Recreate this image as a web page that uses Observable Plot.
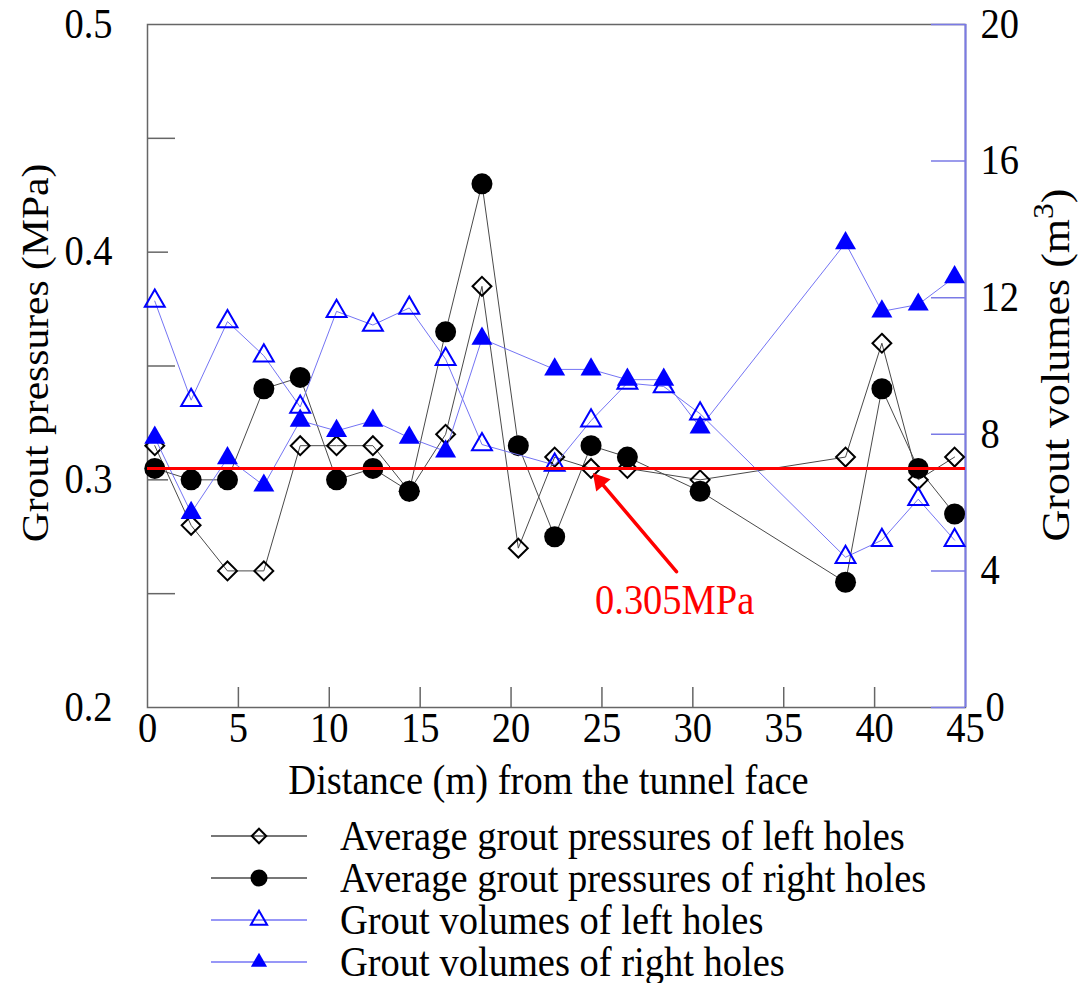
<!DOCTYPE html>
<html>
<head>
<meta charset="utf-8">
<script src="https://cdn.jsdelivr.net/npm/d3@7"></script>
<script src="https://cdn.jsdelivr.net/npm/@observablehq/plot@0.6"></script>
<style>
  body { margin: 0; background: #fff; }
  #chart { width: 1086px; }
  .legend { font-family: "Liberation Serif", "Times New Roman", serif; font-size: 38.5px; color: #000; padding-top: 3px; }
  .legend .row { display: flex; align-items: center; height: 42px; padding-left: 211px; }
  .legend svg { width: 96px; height: 30px; margin-right: 33px; flex: none; }
  .legend span { display: inline-block; transform: scaleY(1.08); transform-origin: left center; white-space: nowrap; }
</style>
</head>
<body>
<div id="chart"></div>
<div class="legend" id="legend"></div>
<script>
// Distances (m) from the tunnel face at which grout pressures were logged
const pressureDist = [0.4, 2.4, 4.4, 6.4, 8.4, 10.4, 12.4, 14.4, 16.4, 18.4, 20.4, 22.4, 24.4, 26.4, 30.4, 38.4, 40.4, 42.4, 44.4];
// Average grout pressures (MPa)
const pressureLeft  = [0.315, 0.28, 0.26, 0.26, 0.315, 0.315, 0.315, 0.295, 0.32, 0.385, 0.27, 0.31, 0.305, 0.305, 0.30, 0.31, 0.36, 0.30, 0.31];
const pressureRight = [0.305, 0.30, 0.30, 0.34, 0.345, 0.30, 0.305, 0.295, 0.365, 0.43, 0.315, 0.275, 0.315, 0.31, 0.295, 0.255, 0.34, 0.305, 0.285];

// Distances (m) at which grout volumes were logged
const volumeDist = [0.4, 2.4, 4.4, 6.4, 8.4, 10.4, 12.4, 14.4, 16.4, 18.4, 22.4, 24.4, 26.4, 28.4, 30.4, 38.4, 40.4, 42.4, 44.4];
// Grout volumes (m3)
const volumeLeft  = [11.9, 9.0, 11.3, 10.3, 8.8, 11.6, 11.2, 11.7, 10.2, 7.7, 7.1, 8.4, 9.5, 9.4, 8.6, 4.4, 4.9, 6.1, 4.9];
const volumeRight = [7.9, 5.7, 7.3, 6.5, 8.4, 8.1, 8.4, 7.9, 7.5, 10.8, 9.9, 9.9, 9.6, 9.6, 8.2, 13.6, 11.6, 11.8, 12.6];

// Axis ticks
const xTicks = [0, 5, 10, 15, 20, 25, 30, 35, 40, 45];
const pressureTicks = [0.2, 0.3, 0.4, 0.5];
const pressureMinorTicks = [0.25, 0.35, 0.45];
const volumeTicks = [0, 4, 8, 12, 16, 20];

// Reference pressure and its callout
const refPressure = 0.305;
const refLabel = "0.305MPa";
const callout = {x1: 29.1, y1: 0.2597, x2: 24.5, y2: 0.303, tx: 29.0, ty: 0.247};

const xTitle = "Distance (m) from the tunnel face";
const yTitle = "Grout pressures (MPa)";
const y2Title = "Grout volumes (m3)";

const seriesNames = [
  "Average grout pressures of left holes",
  "Average grout pressures of right holes",
  "Grout volumes of left holes",
  "Grout volumes of right holes"
];

// Layout
const width = 1086, height = 812;
const marginLeft = 147, marginRight = 121, marginTop = 24, marginBottom = 105;
const frameW = width - marginLeft - marginRight;
const frameH = height - marginTop - marginBottom;
const pDomain = [0.2, 0.5];
const vMax = 20;

// Volumes share the pressure scale through a linear mapping (right axis)
const toP = v => pDomain[0] + v * (pDomain[1] - pDomain[0]) / vMax;
const fromP = p => (p - pDomain[0]) * vMax / (pDomain[1] - pDomain[0]);

const pressureRows = pressureDist.map((x, i) => ({x, left: pressureLeft[i], right: pressureRight[i]}));
const volumeRows = volumeDist.map((x, i) => ({x, left: toP(volumeLeft[i]), right: toP(volumeRight[i])}));

const grey = "#4a4a4a", frameGrey = "#666", blueLine = "#7474f4", blueAxis = "#7a7ae6", blue = "#0000ff", red = "#ff0000";
const font = "'Liberation Serif', 'Times New Roman', serif";
const fs = 38.5;
const stretch = 1.08; // glyphs are drawn slightly taller than wide

// Filled arrow head, oriented along the callout in screen space
const pxX = frameW / 45, pxY = frameH / (pDomain[1] - pDomain[0]);
const ddx = (callout.x2 - callout.x1) * pxX, ddy = -(callout.y2 - callout.y1) * pxY;
const dlen = Math.hypot(ddx, ddy);
const ux = ddx / dlen, uy = ddy / dlen;
const headR = 7;
const headH = Math.sqrt(Math.PI * headR * headR / (Math.sqrt(3) * 3)); // centroid-to-base distance of the triangle
const headAngle = Math.atan2(ux, -uy) * 180 / Math.PI;

const volumeTickFormat = d => String(Math.round(fromP(d)));

const chart = Plot.plot({
  width, height, marginLeft, marginRight, marginTop, marginBottom,
  style: {fontFamily: font, background: "#fff", color: "#000", overflow: "visible"},
  x: {domain: [0, 45]},
  y: {domain: pDomain},
  marks: [
    // frame
    Plot.frame({stroke: frameGrey, strokeWidth: 1.5}),
    Plot.ruleX([45], {stroke: blueAxis, strokeWidth: 2}),
    // inward ticks
    Plot.ruleY(pressureTicks.slice(1, -1), {stroke: frameGrey, strokeWidth: 1.5, insetRight: frameW - 21}),
    Plot.ruleY(pressureMinorTicks, {stroke: frameGrey, strokeWidth: 1.5, insetRight: frameW - 28}),
    Plot.ruleX(xTicks.slice(1, -1), {stroke: frameGrey, strokeWidth: 1.5, insetTop: frameH - 20}),
    Plot.ruleY(volumeTicks.map(toP), {stroke: blueAxis, strokeWidth: 1.5, insetLeft: frameW - 34}),
    // axes
    Plot.axisX({ticks: xTicks, tickSize: 0, tickPadding: 5, fontSize: fs, label: null, tickFormat: d => String(d)}),
    Plot.axisY({anchor: "left", ticks: pressureTicks, tickSize: 0, tickPadding: 35, fontSize: fs, label: null, tickFormat: d3.format(".1f")}),
    Plot.axisY({anchor: "right", ticks: volumeTicks.slice(1).map(toP), tickSize: 0, tickPadding: 15, fontSize: fs, label: null, tickFormat: volumeTickFormat}),
    // the zero label sits a little further out so it clears the "45" below it
    Plot.axisY({anchor: "right", ticks: volumeTicks.slice(0, 1).map(toP), tickSize: 0, tickPadding: 20, fontSize: fs, label: null, tickFormat: volumeTickFormat}),
    // axis titles
    Plot.text([yTitle], {frameAnchor: "left", textAnchor: "middle", rotate: -90, dx: -112, dy: -13, fontSize: fs}),
    Plot.text([y2Title], {frameAnchor: "right", textAnchor: "middle", rotate: -90, dx: 91, dy: -1, fontSize: 40}),
    Plot.text([xTitle], {frameAnchor: "bottom", textAnchor: "middle", dx: -8, dy: 86, fontSize: fs}),
    // pressure series
    Plot.line(pressureRows, {x: "x", y: "left", stroke: grey, strokeWidth: 1}),
    Plot.line(pressureRows, {x: "x", y: "right", stroke: grey, strokeWidth: 1}),
    Plot.dot(pressureRows, {x: "x", y: "left", symbol: "diamond2", r: 8.5, stroke: "#000", strokeWidth: 2, fill: "none"}),
    Plot.dot(pressureRows, {x: "x", y: "right", symbol: "circle", r: 10.5, fill: "#000", stroke: "none"}),
    // volume series
    Plot.line(volumeRows, {x: "x", y: "left", stroke: blueLine, strokeWidth: 1}),
    Plot.line(volumeRows, {x: "x", y: "right", stroke: blueLine, strokeWidth: 1}),
    Plot.dot(volumeRows, {x: "x", y: "left", symbol: "triangle", r: 7.4, stroke: blue, strokeWidth: 2, fill: "none"}),
    Plot.dot(volumeRows, {x: "x", y: "right", symbol: "triangle", r: 7.8, fill: blue, stroke: "none"}),
    // reference line and callout
    Plot.ruleY([refPressure], {stroke: red, strokeWidth: 3}),
    Plot.arrow([callout], {x1: "x1", y1: "y1", x2: "x2", y2: "y2", stroke: red, strokeWidth: 3.5, headLength: 0, insetEnd: 8}),
    Plot.dot([callout], {x: "x2", y: "y2", symbol: "triangle", r: headR, fill: red, rotate: headAngle,
      dx: -ux * 2 * headH, dy: -uy * 2 * headH}),
    Plot.text([callout], {x: "tx", y: "ty", text: () => refLabel, fill: red, fontSize: fs})
  ]
});

// Stretch glyphs vertically (along the reading direction for rotated titles)
d3.select(chart).selectAll("text").each(function () {
  const t = this.getAttribute("transform");
  if (t == null) return;
  const rotated = /rotate\(\s*-?90/.test(t);
  const k = this.textContent === y2Title ? 1.1 : stretch;
  this.setAttribute("transform", t + (rotated ? ` scale(${k},1)` : ` scale(1,${stretch})`));
});

// Superscript the exponent in the volume unit
d3.select(chart).selectAll("text").filter(function () { return this.textContent === y2Title; }).each(function () {
  const sel = d3.select(this);
  const dy = sel.attr("dy");
  sel.text(null);
  const host = sel.append("tspan").attr("dy", dy);
  sel.attr("dy", null);
  host.append("tspan").text("Grout volumes (m");
  host.append("tspan").attr("font-size", "0.72em").attr("baseline-shift", "super").text("3");
  host.append("tspan").text(")");
});

document.getElementById("chart").append(chart);

// Legend below the chart
const swatches = [
  {stroke: grey, symbol: d3.symbolDiamond2, size: Math.PI * 6.5 * 6.5, fill: "none", mstroke: "#000"},
  {stroke: grey, symbol: d3.symbolCircle, size: Math.PI * 8.5 * 8.5, fill: "#000", mstroke: "none"},
  {stroke: blueLine, symbol: d3.symbolTriangle, size: Math.PI * 6 * 6, fill: "none", mstroke: blue},
  {stroke: blueLine, symbol: d3.symbolTriangle, size: Math.PI * 6 * 6, fill: blue, mstroke: "none"}
];
const legend = d3.select("#legend");
seriesNames.forEach((name, i) => {
  const s = swatches[i];
  const row = legend.append("div").attr("class", "row");
  const svg = row.append("svg").attr("viewBox", "0 0 96 30");
  svg.append("line").attr("x1", 0).attr("x2", 96).attr("y1", 15).attr("y2", 15).attr("stroke", s.stroke).attr("stroke-width", 1.5);
  svg.append("path").attr("transform", "translate(48,15)").attr("d", d3.symbol(s.symbol, s.size)())
    .attr("fill", s.fill).attr("stroke", s.mstroke).attr("stroke-width", 2);
  row.append("span").text(name);
});
</script>
</body>
</html>
